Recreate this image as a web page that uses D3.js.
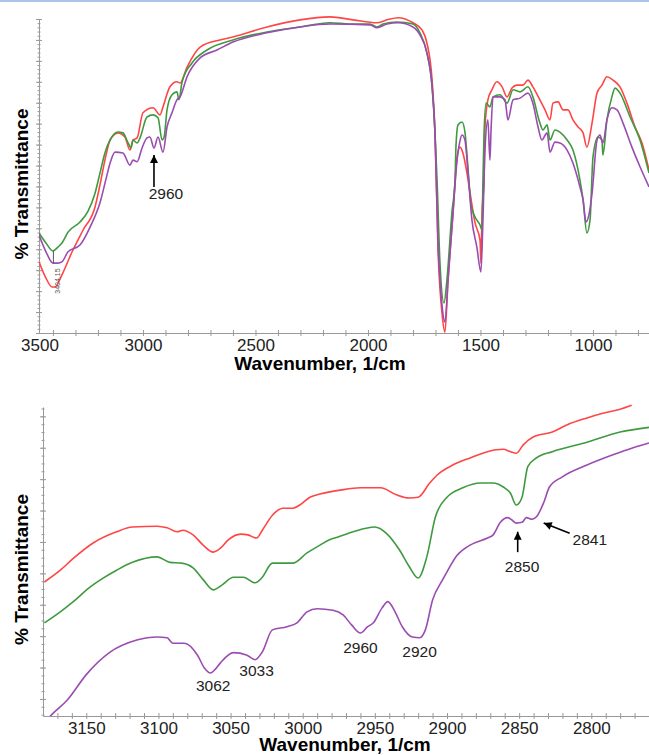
<!DOCTYPE html>
<html>
<head>
<meta charset="utf-8">
<script src="https://cdn.jsdelivr.net/npm/d3@7"></script>
<style>
body{
  margin: 0;
  background: #fff;
  font-family: "Liberation Sans", Arial, sans-serif;
}
.tick text{
  font-size: 17px;
  fill: #222;
}
.axis path, .axis line{
  stroke: #999;
}
.title{
  font-size: 19px;
  font-weight: bold;
  fill: #000;
}
.note{
  font-size: 15.5px;
  fill: #222;
}
</style>
</head>
<body>
<div id="chart"></div>
<script>

// DATA ------------------------------------------------------------
// [wavenumber (1/cm), % transmittance]

// full range spectra (upper panel)
var topRed = [[3462,17.0],[3431,13.1],[3404,11.0],[3391,11.0],[3360,13.9],[3315,19.4],[3266,24.6],[3213,30.1],
  [3191,35.4],[3169,41.3],[3146,46.1],[3111,47.8],[3080,46.8],[3058,43.7],[3044,46.1],[3026,46.6],[3000,52.6],
  [2955,53.8],[2924,52.1],[2911,54.0],[2880,58.8],[2849,60.0],[2835,59.7],[2804,63.5],[2746,68.3],[2658,70.0],
  [2600,70.7],[2449,73.1],[2302,74.8],[2169,75.5],[2066,74.8],[1960,74.1],[1915,74.8],[1866,75.3],[1800,74.1],
  [1760,72.4],[1738,69.3],[1715,60.4],[1702,47.8],[1689,20.5],[1671,4.8],[1658,0.2],[1644,12.7],[1622,28.7],
  [1604,42.0],[1591,44.4],[1578,43.0],[1560,38.2],[1546,33.4],[1524,26.3],[1502,22.2],[1498,16.7],[1493,28.7],
  [1484,36.6],[1480,49.2],[1467,55.7],[1449,58.1],[1427,60.0],[1404,58.8],[1382,56.4],[1360,58.5],[1338,59.2],
  [1311,59.2],[1289,60.4],[1267,58.8],[1236,55.7],[1213,53.3],[1191,50.9],[1178,54.9],[1155,55.2],[1133,53.3],
  [1111,53.3],[1089,50.9],[1066,49.2],[1044,47.8],[1027,44.4],[1004,50.2],[982,57.3],[960,59.2],[938,61.2],
  [911,60.4],[880,58.8],[849,54.9],[813,49.2],[782,45.4],[751,38.9]];

var topGreen = [[3462,23.9],[3431,21.5],[3400,19.6],[3378,20.5],[3360,21.5],[3333,24.1],[3280,26.5],[3244,29.1],
  [3213,33.4],[3191,38.2],[3169,43.0],[3146,46.1],[3111,48.0],[3089,47.8],[3066,45.4],[3053,44.2],[3044,46.1],
  [3026,45.4],[3013,46.6],[2982,51.6],[2955,52.1],[2933,51.4],[2915,46.1],[2906,46.8],[2893,53.3],[2871,56.9],
  [2849,57.6],[2840,55.7],[2826,60.0],[2782,64.5],[2715,67.6],[2600,70.0],[2449,71.9],[2302,73.1],[2169,74.1],
  [2080,73.8],[1991,73.8],[1960,73.1],[1933,73.8],[1871,74.3],[1800,73.8],[1769,71.7],[1738,66.9],[1715,58.8],
  [1702,47.8],[1693,36.6],[1680,16.7],[1662,7.2],[1649,12.7],[1627,28.7],[1613,36.6],[1609,44.4],[1600,49.7],
  [1582,50.4],[1569,48.0],[1556,39.7],[1542,30.6],[1524,27.7],[1502,25.8],[1493,24.6],[1489,36.6],[1484,47.8],
  [1475,54.9],[1458,54.0],[1444,56.4],[1413,56.9],[1382,54.9],[1355,58.1],[1324,57.6],[1289,58.8],[1267,56.4],
  [1236,50.2],[1222,48.5],[1204,49.7],[1191,46.1],[1169,48.5],[1147,48.0],[1115,46.1],[1089,43.7],[1058,36.6],
  [1044,31.8],[1027,23.9],[1013,27.0],[1000,42.0],[978,46.8],[960,46.1],[956,42.5],[938,50.9],[916,56.4],
  [902,58.5],[880,57.3],[835,51.6],[791,46.1],[751,38.2]];

var topPurple = [[3462,23.4],[3431,19.4],[3400,16.7],[3378,16.7],[3360,17.0],[3333,19.4],[3280,21.0],[3235,25.3],
  [3191,31.1],[3160,37.7],[3146,40.6],[3124,43.2],[3089,43.0],[3058,40.1],[3044,41.3],[3026,40.9],[3004,44.2],
  [2982,46.6],[2969,46.8],[2951,44.2],[2933,46.8],[2911,43.2],[2893,49.2],[2871,52.6],[2849,55.7],[2835,56.4],
  [2804,61.2],[2746,65.7],[2671,67.6],[2600,69.5],[2449,71.7],[2302,73.1],[2169,73.8],[1991,73.6],[1960,72.9],
  [1915,73.8],[1866,74.1],[1800,73.1],[1769,71.2],[1738,66.9],[1715,58.8],[1702,47.8],[1689,22.2],[1671,6.7],
  [1658,2.6],[1644,12.7],[1622,28.7],[1604,41.3],[1591,45.9],[1582,47.3],[1569,46.1],[1556,38.9],[1538,27.0],
  [1516,20.5],[1498,14.6],[1489,27.0],[1480,43.7],[1467,50.9],[1458,41.3],[1453,48.5],[1444,56.4],[1413,56.4],
  [1391,55.7],[1378,50.9],[1355,55.7],[1324,56.1],[1289,57.3],[1267,54.9],[1244,49.2],[1227,46.1],[1204,47.8],
  [1191,43.2],[1169,45.6],[1147,45.4],[1115,43.7],[1089,40.6],[1058,34.9],[1044,31.8],[1031,26.5],[1018,28.2],
  [1004,33.4],[982,46.1],[969,47.3],[956,45.4],[938,50.9],[916,53.8],[893,53.3],[867,50.2],[827,44.4],
  [791,39.7],[751,34.9]];

// C-H stretch region (lower panel)
var botRed = [[3179,18.9],[3168,20.4],[3159,21.9],[3145,23.9],[3129,25.3],[3118,25.9],[3101,26.0],[3094,25.8],
  [3087,25.3],[3083,25.5],[3076,24.9],[3069,23.6],[3062,22.7],[3057,23.2],[3052,24.2],[3043,25.0],[3038,24.9],
  [3032,24.5],[3028,25.5],[3021,27.4],[3014,28.3],[3007,28.3],[3002,28.7],[2995,29.7],[2988,30.1],[2974,30.6],
  [2960,30.9],[2946,30.9],[2935,30.0],[2926,29.6],[2920,29.7],[2912,31.5],[2907,32.5],[2896,33.8],[2884,34.7],
  [2872,35.5],[2861,35.8],[2856,35.5],[2852,35.3],[2847,36.4],[2840,37.4],[2827,38.0],[2817,38.9],[2803,39.8],
  [2792,40.4],[2780,40.9],[2772,41.4]];

var botGreen = [[3179,13.7],[3168,15.1],[3159,16.4],[3147,18.3],[3140,19.2],[3129,20.4],[3118,21.4],[3101,22.1],
  [3092,21.4],[3084,21.3],[3076,20.7],[3069,19.2],[3062,17.9],[3056,18.5],[3048,19.5],[3041,19.5],[3033,18.8],
  [3028,19.5],[3021,21.3],[3011,21.3],[3007,21.3],[2997,22.6],[2988,23.6],[2981,24.3],[2976,24.6],[2965,25.3],
  [2950,25.9],[2942,25.1],[2933,23.0],[2926,20.8],[2920,19.4],[2914,22.1],[2908,27.2],[2900,29.7],[2889,30.9],
  [2877,31.5],[2868,31.5],[2861,31.0],[2856,30.2],[2852,28.7],[2848,29.7],[2844,33.6],[2838,34.7],[2827,35.5],
  [2803,36.7],[2780,38.0],[2760,38.6]];

var botPurple = [[3180,0.8],[3174,2.0],[3163,3.9],[3150,7.1],[3134,9.9],[3115,11.5],[3101,11.9],[3094,11.8],
  [3090,11.1],[3082,11.1],[3073,9.6],[3068,7.9],[3064,7.3],[3061,7.7],[3057,8.6],[3048,9.9],[3039,9.6],
  [3033,9.0],[3028,10.0],[3021,12.8],[3011,13.2],[3004,13.7],[2997,15.1],[2990,15.5],[2979,15.3],[2972,14.7],
  [2966,13.4],[2960,12.4],[2955,13.2],[2951,13.7],[2945,15.6],[2941,16.4],[2936,15.1],[2931,13.2],[2924,11.9],
  [2919,11.8],[2915,12.8],[2910,16.6],[2903,19.2],[2900,20.2],[2893,22.3],[2884,23.6],[2872,24.5],[2868,24.9],
  [2863,26.5],[2858,27.1],[2855,26.8],[2852,26.4],[2848,26.5],[2845,27.1],[2841,26.9],[2838,27.2],[2833,29.0],
  [2829,31.0],[2820,32.3],[2803,33.8],[2785,35.1],[2771,36.0],[2760,36.6]];

var seriesColors = ['#ff4545', '#3f9a3f', '#9a4cb0'];

// axis tick labels
var topXLabels = [3500, 3000, 2500, 2000, 1500, 1000];
var botXLabels = [3150, 3100, 3050, 3000, 2950, 2900, 2850, 2800];

// peak labels: text, wavenumber, transmittance of the text anchor
var topNotes = [['2960', 2898, 32.0]];
var topArrows = [[[2951, 34.9], [2951, 42.5]]];
var botNotes = [['3062', 3062, 5.0], ['3033', 3032, 6.9], ['2960', 2960, 9.9], ['2920', 2919, 9.4],
  ['2850', 2848, 20.2], ['2841', 2801, 23.6]];
var botArrows = [[[2851, 22.7], [2851, 25.3]], [[2815, 25.1], [2833, 26.4]]];
// END -------------------------------------------------------------


var W = 649, H = 755;

var svg = d3.select('#chart').append('svg')
  .attr('width', W)
  .attr('height', H);

// arrow head
svg.append('defs').append('marker')
  .attr('id', 'head')
  .attr('markerUnits', 'userSpaceOnUse')
  .attr('viewBox', '0 0 10 10')
  .attr('refX', 10).attr('refY', 5)
  .attr('markerWidth', 9).attr('markerHeight', 8)
  .attr('orient', 'auto')
  .append('path')
  .attr('d', 'M0,0 L10,5 L0,10 Z')
  .attr('fill', '#000');

// thin blue rule on top of the figure
svg.append('line')
  .attr('x1', 0).attr('x2', W)
  .attr('y1', 1).attr('y2', 1)
  .attr('stroke', '#abc5e8')
  .attr('stroke-width', 2);

function panel(o){
  var x = d3.scaleLinear().domain(o.xDomain).range([o.left, W]);
  var y = d3.scaleLinear().domain(o.yDomain).range([o.bottom, o.top]);

  var g = svg.append('g');

  g.append('clipPath').attr('id', 'clip' + o.id)
    .append('rect')
    .attr('x', o.left).attr('y', o.top - 8)
    .attr('width', W - o.left).attr('height', o.bottom - o.top + 8);

  // y axis: crossing ticks, no labels
  function yTicks(vals, size, withDomain){
    [d3.axisLeft, d3.axisRight].forEach(function(ax, k){
      var a = g.append('g').attr('class', 'axis')
        .attr('transform', 'translate(' + o.left + ',0)')
        .call(ax(y).tickValues(vals).tickSize(size).tickSizeOuter(0).tickFormat(''));
      if (!withDomain || k) a.select('.domain').remove();
    });
  }
  yTicks(o.yMinor, 1.5, false);
  yTicks(o.yMajor, 3, true);

  // x axis
  [d3.axisBottom, d3.axisTop].forEach(function(ax, k){
    var a = g.append('g').attr('class', 'axis')
      .attr('transform', 'translate(0,' + o.bottom + ')')
      .call(ax(x).tickValues(o.xMinor).tickSize(3).tickSizeOuter(0).tickFormat(''));
    if (k) a.select('.domain').remove();
  });

  var lab = g.append('g')
    .attr('transform', 'translate(0,' + o.bottom + ')')
    .call(d3.axisBottom(x).tickValues(o.xLabels).tickSize(0).tickPadding(6).tickFormat(d3.format('d')));
  lab.select('.domain').remove();
  // first label sits at the start of the axis
  lab.selectAll('.tick')
    .filter(function(d){ return x(d) < o.left; })
    .attr('transform', 'translate(' + (o.left + 1) + ',0)');

  // titles
  g.append('text').attr('class', 'title')
    .attr('text-anchor', 'middle')
    .attr('x', o.xTitleX).attr('y', o.bottom + o.titleGap)
    .text('Wavenumber, 1/cm');

  g.append('text').attr('class', 'title')
    .attr('text-anchor', 'middle')
    .attr('transform', 'translate(28,' + ((o.top + o.bottom) / 2 + 8) + ') rotate(-90)')
    .text('% Transmittance');

  // spectra
  var line = d3.line()
    .x(function(d){ return x(d[0]); })
    .y(function(d){ return y(d[1]); })
    .curve(d3.curveMonotoneX);

  g.append('g').attr('clip-path', 'url(#clip' + o.id + ')')
    .selectAll('path')
    .data(o.series)
    .join('path')
    .attr('d', line)
    .attr('fill', 'none')
    .attr('stroke', function(d, i){ return seriesColors[i]; })
    .attr('stroke-width', 1.6)
    .attr('stroke-linejoin', 'round');

  // peak labels
  g.selectAll('text.note')
    .data(o.notes)
    .join('text')
    .attr('class', 'note')
    .attr('text-anchor', 'middle')
    .attr('x', function(d){ return x(d[1]); })
    .attr('y', function(d){ return y(d[2]); })
    .text(function(d){ return d[0]; });

  g.selectAll('line.arrow')
    .data(o.arrows)
    .join('line')
    .attr('class', 'arrow')
    .attr('x1', function(d){ return x(d[0][0]); })
    .attr('y1', function(d){ return y(d[0][1]); })
    .attr('x2', function(d){ return x(d[1][0]); })
    .attr('y2', function(d){ return y(d[1][1]); })
    .attr('stroke', '#000')
    .attr('stroke-width', 1.6)
    .attr('marker-end', 'url(#head)');

  return {x: x, y: y, g: g};
}

var panelA = panel({
  id: 'a', left: 39, top: 19, bottom: 333,
  xDomain: [3462, 751], yDomain: [0, 75],
  xMinor: d3.range(3400, 751, -100),
  xLabels: topXLabels,
  yMajor: d3.range(0, 76, 5), yMinor: d3.range(0, 76, 1),
  xTitleX: 320, titleGap: 37,
  series: [topRed, topGreen, topPurple],
  notes: topNotes, arrows: topArrows
});

// small instrument peak marker at the O-H band
panelA.g.append('line')
  .attr('x1', panelA.x(3398)).attr('x2', panelA.x(3398))
  .attr('y1', panelA.y(19.6)).attr('y2', panelA.y(16.7))
  .attr('stroke', '#555').attr('stroke-width', 1);
panelA.g.append('text')
  .attr('transform', 'translate(' + panelA.x(3380) + ',' + panelA.y(12.4) + ') rotate(-90)')
  .attr('text-anchor', 'middle')
  .attr('dominant-baseline', 'central')
  .attr('font-size', 7)
  .attr('fill', '#555')
  .text('3404.15');

panel({
  id: 'b', left: 43, top: 407, bottom: 716,
  xDomain: [3180, 2760], yDomain: [1.83, 41.19],
  xMinor: d3.range(3170, 2759, -10),
  xLabels: botXLabels,
  yMajor: d3.range(4, 41, 4), yMinor: d3.range(2, 42, 1),
  xTitleX: 345, titleGap: 35,
  series: [botRed, botGreen, botPurple],
  notes: botNotes, arrows: botArrows
});

</script>
</body>
</html>
